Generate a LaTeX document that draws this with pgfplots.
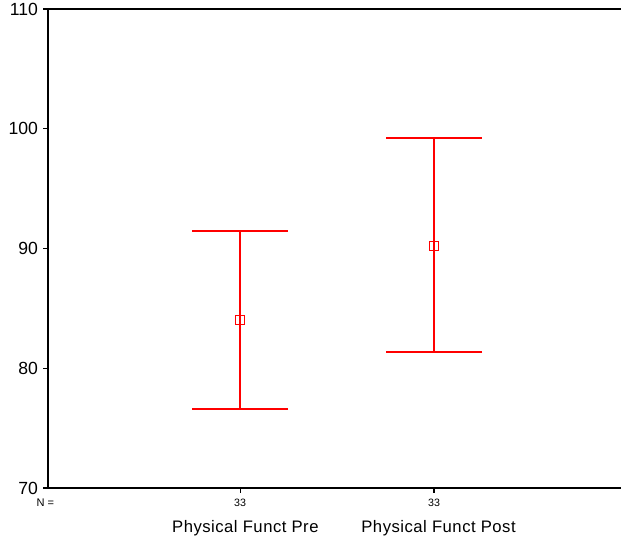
\documentclass[border=0pt]{standalone}
\usepackage{pgfplots}
\pgfplotsset{compat=1.18}
\usepackage{fontspec}
\setmainfont{Liberation Sans}
\begin{document}
\begin{tikzpicture}[x=0.75pt,y=0.75pt]
\path[use as bounding box] (0,0) rectangle (621,544);
\begin{pgfinterruptboundingbox}
\begin{axis}[
  at={(36pt,42pt)}, anchor=south west,
  scale only axis, width=429.75pt, height=359.25pt,
  xmin=0.01, xmax=2.964, ymin=70, ymax=110,
  axis x line=box, axis y line=left,
  axis line style={line width=1.1pt, -},
  ytick={70,80,90,100,110},
  xtick={1,2}, xticklabels={33,33},
  tick style={black, line width=0.8pt},
  major tick length=3.5pt,
  xtick pos=bottom,
  tick align=outside,
  yticklabel style={font=\fontsize{13.2}{15}\selectfont, xshift=-0.5pt},
  xticklabel style={font=\fontsize{8}{9}\selectfont, yshift=-1pt},
  /pgf/number format/assume math mode=true,
  clip=false,
]
\addplot[color=red, line width=0.9pt, mark=square, mark size=3.5pt, only marks,
  mark options={red, line width=0.9pt, fill=none},
  error bars/.cd, y dir=both, y explicit,
  error bar style={color=red, line width=0.9pt},
  error mark options={color=red, line width=0.9pt, mark size=36pt, rotate=90}]
coordinates {
 (1,84.03) += (0,7.43) -= (0,7.43)
 (2,90.21) += (0,9.02) -= (0,8.85)
};
\node[font=\fontsize{8.3}{9}\selectfont] at (rel axis cs:0,0) [xshift=-2pt, yshift=-11pt] {N =};
\node[font=\fontsize{12.5}{14}\selectfont\addfontfeature{LetterSpace=3}] at (axis cs:1,70) [xshift=4pt, yshift=-30pt] {Physical Funct Pre};
\node[font=\fontsize{12.5}{14}\selectfont\addfontfeature{LetterSpace=3}] at (axis cs:2,70) [xshift=3.4pt, yshift=-30pt] {Physical Funct Post};
\end{axis}
\end{pgfinterruptboundingbox}
\end{tikzpicture}
\end{document}
